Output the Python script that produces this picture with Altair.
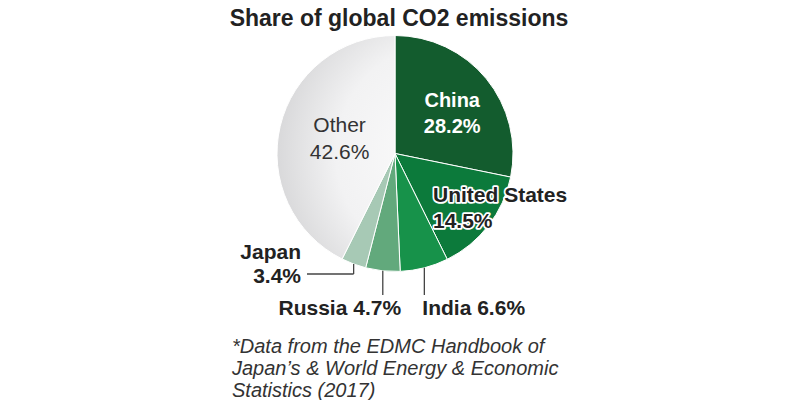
import math
import altair as alt
import pandas as pd

# ---- data ----
countries = ["China", "United States", "India", "Russia", "Japan", "Other"]
shares = [28.2, 14.5, 6.6, 4.7, 3.4, 42.6]
colors = ["#135c2e", "#0c7a3b", "#17924a", "#62a97c", "#a7c9b5", "#e4e4e6"]
title_text = "Share of global CO2 emissions"
footnote = "*Data from the EDMC Handbook of\nJapan\u2019s & World Energy & Economic\nStatistics (2017)"

# ---- layout ----
W, H = 784, 392
CX, CY, R = 387, 145.5, 118
FONT = "Liberation Sans"

df = pd.DataFrame({"name": countries, "value": shares, "ord": list(range(len(countries)))})

# mid angles (clockwise from top) for label anchors
total = sum(shares)
mids = {}
acc = 0.0
for n, v in zip(countries, shares):
    mids[n] = (acc + v / 2) / total * 2 * math.pi
    acc += v


def polar(name, r):
    a = mids[name]
    return CX + r * math.sin(a), CY - r * math.cos(a)


other_fill = alt.Gradient(
    gradient="radial",
    stops=[alt.GradientStop(color="#fcfcfc", offset=0),
           alt.GradientStop(color="#f2f2f3", offset=0.5),
           alt.GradientStop(color="#c2c2c4", offset=1)],
    x1=1.0, y1=0.53, r1=0, x2=1.0, y2=0.53, r2=1.0,
)

pie = alt.Chart(df).mark_arc(outerRadius=R, stroke="white", strokeWidth=1).encode(
    theta=alt.Theta("value:Q", stack=True),
    order=alt.Order("ord:Q"),
    fill=alt.condition(
        "datum.name == 'Other'",
        alt.value(other_fill),
        alt.Fill("name:N", scale=alt.Scale(domain=countries, range=colors), legend=None),
    ),
    x=alt.value(CX),
    y=alt.value(CY),
)

# leader lines from slice edges
ji = polar("India", R)
jr = polar("Russia", R)
jj = polar("Japan", R)
leaders = pd.DataFrame({
    "x": [ji[0], jr[0], jj[0], jj[0]],
    "x2": [ji[0], jr[0], jj[0], 299],
    "y": [ji[1], jr[1], jj[1], 266],
    "y2": [287, 287, 266, 266],
})
lines = alt.Chart(leaders).mark_rule(color="#444444", strokeWidth=1.3).encode(
    x=alt.X("x:Q", scale=None), x2="x2:Q",
    y=alt.Y("y:Q", scale=None), y2="y2:Q",
)

pc = polar("China", 70)
po = polar("Other", 58)

def label(text, x, y, color, weight, size, align="center", lh=26, halo=False):
    base = alt.Chart(pd.DataFrame({"t": [text], "x": [x], "y": [y]}))
    kw = dict(font=FONT, fontSize=size, fontWeight=weight, align=align,
              baseline="middle", lineBreak="\n", lineHeight=lh)
    enc = dict(x=alt.X("x:Q", scale=None), y=alt.Y("y:Q", scale=None), text="t:N")
    layers = []
    if halo:
        layers.append(base.mark_text(color="white", stroke="white", strokeWidth=3.5,
                                     strokeJoin="round", **kw).encode(**enc))
    layers.append(base.mark_text(color=color, **kw).encode(**enc))
    return layers

texts = []
texts += label("China\n28.2%", pc[0] + 3, pc[1] - 8, "white", "bold", 20)
texts += label("Other\n42.6%", po[0] + 1, po[1] - 14, "#333333", "normal", 21, lh=27)
texts += label("United States\n14.5%", 425, 188, "#222222", "bold", 21, align="left", halo=True)
texts += label("India 6.6%", ji[0] - 2, 301, "#222222", "bold", 21, align="left")
texts += label("Russia 4.7%", jr[0] - 43, 301, "#222222", "bold", 21, align="center")
texts += label("Japan\n3.4%", 293, 245, "#222222", "bold", 21, align="right", lh=24)

title = alt.Chart(pd.DataFrame({"t": [title_text], "x": [391], "y": [18]})).mark_text(
    font=FONT, fontSize=23, fontWeight="bold", color="#222222", align="center", baseline="alphabetic"
).encode(x=alt.X("x:Q", scale=None), y=alt.Y("y:Q", scale=None), text="t:N")

note = alt.Chart(pd.DataFrame({"t": [footnote], "x": [224], "y": [339]})).mark_text(
    font=FONT, fontSize=20, fontStyle="italic", color="#333333", align="left",
    baseline="middle", lineBreak="\n", lineHeight=22
).encode(x=alt.X("x:Q", scale=None), y=alt.Y("y:Q", scale=None), text="t:N")

chart = alt.layer(pie, lines, *texts, title, note).properties(
    width=W, height=H, autosize=alt.AutoSizeParams(type="none"), padding=0,
).configure_view(stroke=None)

chart.save("out.html", embed_options={"renderer": "svg", "actions": False})
